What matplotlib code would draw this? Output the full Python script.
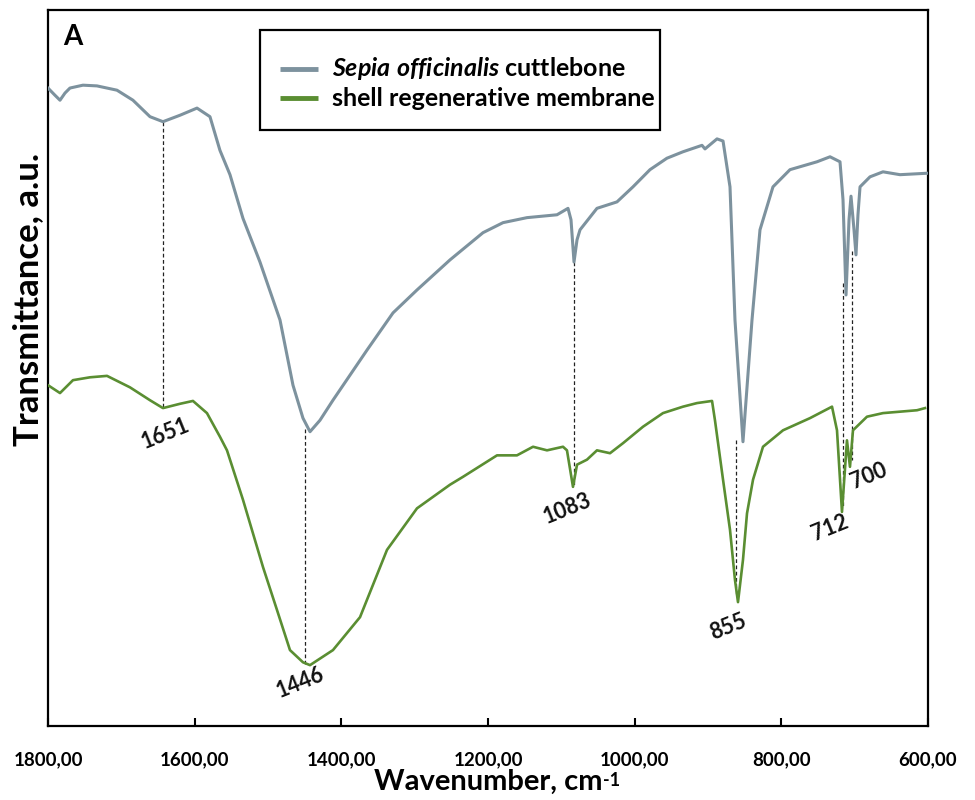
"""
FTIR spectra: Sepia officinalis cuttlebone vs shell regenerative membrane
"""

import matplotlib
matplotlib.use('Agg')
import matplotlib.pyplot as plt
from matplotlib.patches import Rectangle
from matplotlib.ticker import FuncFormatter, MultipleLocator

# ── fonts ──
plt.rcParams['font.family'] = ['Lato', 'DejaVu Sans']
plt.rcParams['font.weight'] = 'bold'
plt.rcParams['mathtext.fontset'] = 'custom'
plt.rcParams['mathtext.rm'] = 'Lato:bold'
plt.rcParams['mathtext.it'] = 'Lato:italic:bold'
plt.rcParams['mathtext.bf'] = 'Lato:bold'

# ── colours ──
GRAY = '#7d929e'
GREEN = '#5a8e32'

# ── cuttlebone spectrum (wavenumber, transmittance a.u.) ──
bone_wn = [1800.0, 1790.5, 1783.6, 1776.8, 1770.0, 1752.3, 1733.2, 1705.9, 1684.1, 1660.9,
           1643.2, 1620.0, 1596.8, 1579.1, 1565.5, 1551.8, 1534.1, 1510.9, 1483.6, 1465.9,
           1452.3, 1442.7, 1429.1, 1411.4, 1365.0, 1329.5, 1296.8, 1251.8, 1206.8, 1179.5,
           1146.8, 1105.9, 1090.9, 1086.8, 1082.7, 1078.6, 1074.5, 1051.4, 1024.1, 1002.3,
           979.1, 956.0, 934.1, 908.2, 904.1, 887.7, 879.5, 870.0, 863.2, 852.3,
           840.0, 829.1, 811.4, 788.2, 751.4, 733.6, 720.0, 715.9, 711.8, 707.7,
           705.0, 700.9, 698.2, 695.5, 692.7, 679.1, 661.4, 638.2, 601.4, 600.0]
bone_t = [89.1, 88.1, 87.4, 88.4, 89.1, 89.5, 89.4, 88.8, 87.4, 85.1,
          84.4, 85.3, 86.3, 85.1, 80.4, 77.0, 70.9, 64.8, 56.7, 47.6,
          43.0, 41.1, 42.7, 45.5, 52.5, 57.7, 60.9, 65.1, 68.9, 70.3,
          71.0, 71.4, 72.3, 70.7, 64.8, 67.9, 69.3, 72.3, 73.2, 75.3,
          77.7, 79.3, 80.2, 81.1, 80.6, 82.0, 81.7, 75.3, 56.7, 39.7,
          56.7, 69.3, 75.3, 77.7, 78.8, 79.5, 78.8, 73.5, 60.2, 70.7,
          74.0, 69.3, 65.8, 71.4, 75.3, 76.7, 77.4, 77.0, 77.2, 77.2]

# ── membrane spectrum ──
memb_wn = [1800.0, 1783.6, 1765.9, 1742.7, 1719.5, 1688.2, 1660.9, 1643.2, 1620.0, 1602.3,
           1583.2, 1565.5, 1555.9, 1534.1, 1506.8, 1487.7, 1470.0, 1452.3, 1442.7, 1411.4,
           1374.5, 1337.7, 1296.8, 1251.8, 1234.1, 1187.7, 1160.5, 1138.6, 1119.5, 1097.7,
           1092.3, 1084.1, 1078.6, 1065.0, 1051.4, 1033.6, 1015.9, 988.6, 961.4, 934.1,
           915.0, 894.5, 890.5, 879.5, 870.0, 863.2, 859.1, 852.3, 846.8, 838.6,
           825.0, 797.7, 760.9, 730.9, 724.1, 717.3, 710.5, 706.4, 702.3, 683.2,
           661.4, 615.0, 604.1]
memb_t = [47.6, 46.5, 48.3, 48.7, 48.9, 47.3, 45.5, 44.4, 45.0, 45.4,
          43.7, 40.4, 38.5, 31.6, 22.2, 16.2, 10.6, 8.9, 8.5, 10.6,
          15.2, 24.6, 30.4, 33.7, 34.8, 37.8, 37.8, 39.0, 38.5, 39.0,
          38.5, 33.4, 36.5, 37.2, 38.5, 38.1, 39.5, 41.8, 43.7, 44.6,
          45.1, 45.4, 42.7, 34.4, 27.4, 20.4, 17.3, 23.2, 29.7, 34.4,
          39.0, 41.3, 43.0, 44.6, 41.3, 29.9, 39.9, 36.2, 41.3, 43.2,
          43.7, 44.1, 44.4]

# ── peak markers: dashed line position, top/bottom, label and label anchor ──
peak_labels = ['1651', '1446', '1083', '855', '712', '700']
peak_line_wn = [1643.2, 1449.5, 1082.7, 861.8, 715.9, 703.6]
peak_line_top = [84.4, 41.5, 64.8, 39.9, 61.9, 66.3]
peak_line_bottom = [44.6, 8.7, 33.4, 18.2, 30.7, 37.2]
peak_text_wn = [1640.5, 1456.4, 1092.3, 872.7, 733.6, 680.5]
peak_text_t = [40.9, 6.1, 30.4, 13.8, 27.7, 34.9]

fig = plt.figure(figsize=(9.75, 8), dpi=100)
ax = fig.add_axes([0.0492, 0.0925, 0.9026, 0.895])

# 스펙트럼
ax.plot(bone_wn, bone_t, color=GRAY, linewidth=2.2, zorder=3)
ax.plot(memb_wn, memb_t, color=GREEN, linewidth=1.9, zorder=3)

# 피크 점선 + 라벨
for lab, x, y0, y1, tx, ty in zip(peak_labels, peak_line_wn, peak_line_top,
                                  peak_line_bottom, peak_text_wn, peak_text_t):
    ax.plot([x, x], [y0, y1], color='#222222', linewidth=0.9,
            linestyle=(0, (3, 2)), zorder=2)
    ax.text(tx, ty, lab, rotation=22, ha='center', va='center',
            fontsize=15.5, fontweight='bold', color='#111111')

ax.set_xlim(1800, 600)
ax.set_ylim(0, 100)
ax.xaxis.set_major_locator(MultipleLocator(200))
ax.xaxis.set_major_formatter(FuncFormatter(lambda v, p: f'{v:.2f}'.replace('.', ',')))
ax.tick_params(axis='x', direction='in', length=6, width=1.5, pad=18,
               labelsize=13.5, top=False)
ax.set_yticks([])
for sp in ax.spines.values():
    sp.set_linewidth(1.6)

# 축 라벨
xl = fig.text(0.5005, 0.0125, 'Wavenumber, cm', ha='center', va='baseline',
              fontsize=21, fontweight='bold')
ax.annotate('-1', xy=(1, 1), xycoords=xl, xytext=(0.5, -2),
            textcoords='offset points', ha='left', va='top',
            fontsize=13, fontweight='bold')
fig.text(0.029, 0.6255, 'Transmittance, a.u.', rotation=90, ha='center',
         va='center', fontsize=25, fontweight='bold')

ax.text(0.028, 0.962, 'A', transform=ax.transAxes, ha='center', va='center',
        fontsize=20, fontweight='bold')

# 범례 (수동)
ax.add_patch(Rectangle((0.241, 0.832), 0.454, 0.140, transform=ax.transAxes,
                       fill=False, edgecolor='black', linewidth=1.6, zorder=4))
legend_rows = [(0.9176, GRAY, r'$\mathit{Sepia\ officinalis}$ cuttlebone'),
               (0.877, GREEN, 'shell regenerative membrane')]
for y, color, label in legend_rows:
    ax.plot([0.2636, 0.3068], [y, y], transform=ax.transAxes, color=color,
            linewidth=3.5, solid_capstyle='butt', zorder=4)
    ax.text(0.3227, y, label, transform=ax.transAxes, ha='left', va='center',
            fontsize=18, fontweight='bold', zorder=4)

plt.savefig('out.png', dpi=100)
plt.close()
